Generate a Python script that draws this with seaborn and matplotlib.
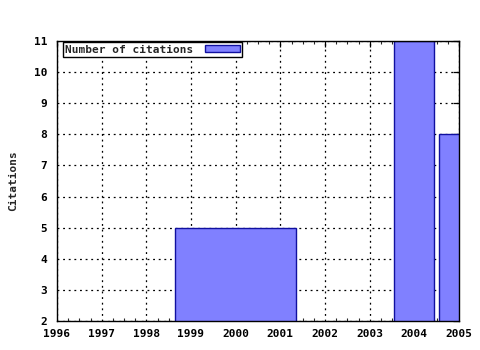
import matplotlib
matplotlib.use("Agg")
import matplotlib.pyplot as plt
import seaborn as sns
from matplotlib.ticker import MultipleLocator

years = [2000, 2004, 2005]
citations = [5, 11, 8]
box_widths = [2.71, 0.9, 0.9]
x_ticks = list(range(1996, 2006))
y_ticks = list(range(2, 12))
series_label = "Number of citations"

sns.set_style("white")
plt.rcParams['font.family'] = ['DejaVu Sans Mono', 'DejaVu Sans']
plt.rcParams['font.weight'] = 'bold'

fs = 8
fig = plt.figure(figsize=(4.8, 3.5), dpi=100)
ax = fig.add_axes([57/480, 1-321/350, (459-57)/480, (321-41)/350])

ax.bar(years, citations, width=box_widths, color='#8080ff', edgecolor='#1010a0',
       linewidth=1.0, label=series_label, zorder=3)

ax.set_xlim(1996, 2005)
ax.set_ylim(2, 11)
ax.set_xticks(x_ticks)
ax.set_yticks(y_ticks)
ax.xaxis.set_minor_locator(MultipleLocator(0.25))
ax.grid(True, which='major', color='black', linestyle=(0, (1.5, 3)), linewidth=0.9, zorder=1)
ax.set_axisbelow(True)

for s in ax.spines.values():
    s.set_color('black')
    s.set_linewidth(1.0)
    s.set_zorder(5)

ax.tick_params(axis='both', which='major', direction='in', length=4, width=0.9,
               top=True, right=True, labelsize=fs, colors='black')
ax.tick_params(axis='x', which='major', pad=6)
ax.tick_params(axis='y', which='major', pad=7)
ax.tick_params(axis='x', which='minor', direction='in', length=2, width=0.8,
               top=True, bottom=True)
for lab in ax.get_xticklabels() + ax.get_yticklabels():
    lab.set_fontweight('bold')

ax.set_ylabel("Citations", fontsize=fs, fontweight='bold', labelpad=11)

leg = ax.legend(loc='upper left', bbox_to_anchor=(0.015, 0.995), frameon=True, fancybox=False,
                prop={'size': fs, 'weight': 'bold'}, handlelength=3.2, handleheight=0.65,
                borderpad=0.2, borderaxespad=0, markerfirst=False, handletextpad=1.0)
leg.get_frame().set_edgecolor('black')
leg.get_frame().set_linewidth(1.0)
leg.get_frame().set_alpha(1)

fig.savefig("out.png", dpi=100)
